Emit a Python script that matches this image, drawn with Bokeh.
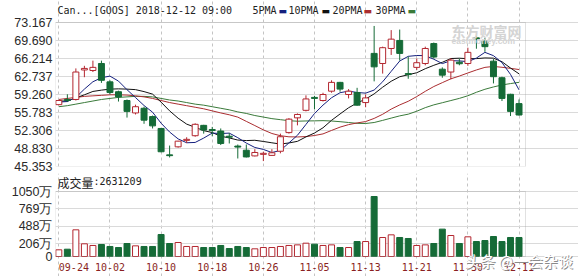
from bokeh.plotting import figure
from bokeh.layouts import column
from bokeh.models import (ColumnDataSource, FixedTicker, Label, Range1d, CustomJSTickFormatter,
                          BoxAnnotation)
from bokeh.embed import file_html
from bokeh.resources import INLINE

# ---------------- data ----------------
dates = ["09-24", "09-25", "09-26", "09-27", "09-28", "10-01", "10-02", "10-03", "10-04", "10-05",
         "10-08", "10-09", "10-10", "10-11", "10-12", "10-15", "10-16", "10-17", "10-18", "10-19",
         "10-22", "10-23", "10-24", "10-25", "10-26", "10-29", "10-30", "10-31", "11-01", "11-02",
         "11-05", "11-06", "11-07", "11-08", "11-09", "11-12", "11-13", "11-14", "11-15", "11-16",
         "11-19", "11-20", "11-21", "11-23", "11-26", "11-27", "11-28", "11-29", "11-30", "12-03",
         "12-04", "12-06", "12-07", "12-10", "12-11"]
opens = [57.3, 58.3, 58.3, 64.0, 63.9, 65.25, 61.7, 59.8, 58.1, 55.7,
         56.6, 55.0, 52.7, 47.6, 49.15, 50.4, 51.3, 53.3, 52.5, 52.2,
         51.2, 49.3, 48.5, 47.4, 47.7, 47.5, 48.3, 51.9, 54.75, 56.2,
         58.7, 58.1, 59.9, 61.6, 59.26, 59.65, 57.7, 67.2, 65.25, 68.15,
         69.7, 63.3, 64.5, 65.25, 69.1, 64.15, 63.6, 65.5, 65.25, 70.2,
         69.56, 65.7, 62.5, 59.3, 57.5]
highs = [58.2, 59.3, 64.3, 64.8, 65.8, 65.8, 62.0, 60.0, 58.3, 57.3,
         56.9, 55.2, 52.8, 49.4, 50.3, 51.0, 53.7, 53.4, 53.0, 52.7,
         51.8, 49.6, 49.6, 48.7, 48.2, 48.7, 51.7, 54.7, 55.6, 59.1,
         59.0, 59.6, 62.0, 61.7, 60.3, 60.55, 59.26, 72.5, 68.5, 71.7,
         71.8, 66.6, 66.2, 68.5, 69.3, 64.5, 66.3, 66.2, 68.3, 70.6,
         70.2, 66.1, 62.7, 59.4, 58.3]
lows = [57.2, 57.8, 58.1, 62.6, 63.6, 61.5, 59.3, 57.9, 54.8, 55.4,
        53.6, 52.7, 48.1, 47.1, 49.0, 49.9, 51.1, 51.7, 51.2, 49.5,
        49.8, 46.9, 47.1, 47.3, 46.4, 47.4, 47.9, 51.7, 53.3, 56.0,
        56.4, 57.9, 59.6, 59.8, 58.5, 57.1, 56.8, 61.8, 63.3, 66.9,
        65.8, 62.3, 64.0, 64.9, 66.2, 62.5, 62.2, 64.9, 64.8, 68.1,
        67.5, 61.4, 58.0, 55.1, 55.2]
closes = [58.1, 58.1, 63.6, 64.3, 64.5, 62.0, 59.65, 58.8, 56.0, 56.9,
          54.3, 53.2, 48.2, 47.45, 50.25, 50.6, 53.5, 52.4, 52.3, 49.8,
          51.0, 49.1, 47.2, 48.06, 47.9, 48.0, 51.1, 54.5, 55.4, 58.4,
          58.5, 59.26, 61.6, 60.3, 59.9, 57.2, 58.6, 64.6, 68.3, 69.95,
          67.2, 63.1, 65.4, 68.15, 66.5, 63.0, 65.9, 65.2, 67.4, 70.0,
          68.5, 62.7, 58.5, 56.0, 55.3]
volumes = [108, 118, 431, 205, 178, 194, 162, 145, 210, 172,
           162, 162, 355, 210, 226, 162, 162, 145, 145, 178,
           129, 162, 145, 124, 145, 145, 162, 178, 188, 215,
           199, 178, 188, 145, 145, 242, 242, 969, 307, 350,
           307, 291, 178, 188, 210, 442, 339, 210, 318, 242,
           258, 323, 242, 307, 307]  # 万
ma5 = [57.8, 57.9, 58.7, 60.3, 61.72, 62.5, 62.81, 61.85, 60.19, 58.67,
       57.13, 55.84, 53.72, 52.01, 50.68, 49.94, 50.0, 50.84, 51.81, 51.72,
       51.8, 50.92, 49.88, 49.03, 48.65, 48.05, 48.45, 49.91, 51.38, 53.48,
       55.58, 57.21, 58.63, 59.61, 59.91, 59.65, 59.52, 60.12, 61.72, 63.73,
       65.73, 66.63, 66.79, 66.76, 66.07, 65.23, 65.79, 65.75, 65.6, 66.3,
       67.4, 66.76, 65.42, 63.14, 60.16]
ma10 = [58.0, 58.0, 58.6, 59.2, 59.85, 60.1, 60.3, 60.35, 60.3, 60.2,
        59.82, 59.33, 57.79, 56.1, 54.68, 53.54, 52.92, 52.28, 51.91, 51.2,
        50.87, 50.46, 50.36, 50.42, 50.19, 49.93, 49.69, 49.9, 50.21, 51.07,
        51.82, 52.83, 54.27, 55.5, 56.7, 57.62, 58.37, 59.38, 60.67, 61.82,
        62.69, 63.08, 63.46, 64.24, 64.9, 65.48, 66.21, 66.27, 66.18, 66.19,
        66.32, 66.28, 65.59, 64.37, 63.25]
ma20 = [58.3, 58.5, 58.7, 58.9, 59.0, 59.1, 59.2, 59.2, 59.15, 59.0,
        58.8, 58.5, 58.1, 57.7, 57.4, 57.1, 56.8, 56.5, 56.1, 55.7,
        55.34, 54.89, 54.07, 53.26, 52.43, 51.73, 51.3, 51.09, 51.06, 51.13,
        51.34, 51.65, 52.32, 52.96, 53.44, 53.77, 54.03, 54.64, 55.44, 56.44,
        57.25, 57.95, 58.86, 59.87, 60.8, 61.55, 62.29, 62.82, 63.42, 64.0,
        64.5, 64.68, 64.52, 64.31, 64.08]
ma30 = [56.9, 57.1, 57.4, 57.7, 58.0, 58.3, 58.5, 58.7, 58.8, 58.9,
        58.9, 58.8, 58.5, 58.2, 58.0, 57.7, 57.4, 57.2, 56.9, 56.6,
        56.3, 55.9, 55.6, 55.2, 54.9, 54.6, 54.4, 54.2, 54.1, 54.15,
        54.17, 54.21, 54.14, 54.01, 53.85, 53.69, 53.66, 53.85, 54.26, 54.7,
        55.13, 55.46, 56.03, 56.72, 57.26, 57.67, 58.09, 58.51, 59.02, 59.69,
        60.27, 60.72, 61.1, 61.37, 61.61]
price_ticks = [45.353, 48.830, 52.306, 55.783, 59.260, 62.737, 66.214, 69.690, 73.167]
volume_ticks = [0, 206, 488, 769, 1050]
date_tick_labels = ["09-24", "10-02", "10-10", "10-18", "10-26", "11-05", "11-13", "11-21", "11-30", "12-11"]
title_text = "Can...[GOOS] 2018-12-12 09:00"
ma_names = ["5PMA", "10PMA", "20PMA", "30PMA"]
volume_title = "成交量"
volume_value_text = ":2631209"

# ---------------- styles / layout ----------------
UP = "#b3262f"
DOWN = "#156b37"
MA_COLORS = ["#15207e", "#111111", "#aa2d30", "#3a7a3a"]
FRAME = "#9c9c9c"
MONO = "DejaVu Sans Mono"
SANS = "Liberation Sans"
CJK = "Noto Sans CJK SC"

W = 578
H1, H2 = 173, 103
FL, FR = 55, 525               # pane left/right (page px)
X0, X1 = -0.39, 54.76          # data range of the pane
PXU = (FR - FL) / (X1 - X0)    # px per candle
XEND = X1 + (W - FR) / PXU     # frame extends to right canvas edge
PMIN, PMAX = price_ticks[0], price_ticks[-1]
P_TOP, P_BOT = 22, 166
UPP = (PMAX - PMIN) / (P_BOT - P_TOP)
VMAX = volume_ticks[-1]
V_TOP, V_BOT = 191, 256
UPV = VMAX / (V_BOT - V_TOP)


def xd(px):
    return X0 + (px - FL) / PXU


def yp(py):
    return PMAX - (py - P_TOP) * UPP


def yv(py):
    return (V_BOT - py) * UPV


idx = list(range(len(dates)))
is_up = [c >= o for o, c in zip(opens, closes)]
src = ColumnDataSource(dict(
    x=idx, open=opens, high=highs, low=lows, close=closes,
    top=[max(o, c) for o, c in zip(opens, closes)],
    bottom=[min(o, c) for o, c in zip(opens, closes)],
    color=[UP if u else DOWN for u in is_up],
    fill=["white" if u else DOWN for u in is_up],
    vol=volumes,
    ma5=ma5, ma10=ma10, ma20=ma20, ma30=ma30,
))
tick_idx = [dates.index(d) for d in date_tick_labels]


def style(p, ylo, yhi):
    p.background_fill_color = "white"
    p.border_fill_color = "white"
    p.outline_line_color = None
    p.ygrid.grid_line_color = "#dadada"
    p.ygrid.bounds = (X0, X1)
    p.xgrid.ticker = FixedTicker(ticks=tick_idx)
    p.xgrid.grid_line_color = "#c4c4c4"
    p.xgrid.grid_line_dash = "3 3"
    p.xgrid.bounds = (ylo, yhi)
    p.add_layout(BoxAnnotation(left=X0, right=X1, bottom=ylo, top=yhi,
                               fill_color=None, line_color=FRAME, line_width=1))
    for ax in p.yaxis:
        ax.axis_line_color = None
        ax.major_tick_line_color = None
        ax.minor_tick_line_color = None
        ax.major_tick_out = 0
        ax.major_tick_in = 0
        ax.minor_tick_out = 0
        ax.major_label_standoff = 3
        ax.major_label_text_font = SANS
        ax.major_label_text_font_size = "12.5px"
        ax.major_label_text_color = "#2a2a2a"


def add_label(p, x, y, text, font, size, color, bold=False):
    p.add_layout(Label(x=x, y=y, text=text, text_font=font,
                       text_font_size=f"{size}px", text_color=color,
                       text_align="left", text_baseline="middle",
                       text_font_style="bold" if bold else "normal"))


# ---------------- price figure ----------------
p1 = figure(width=W, height=H1, x_range=Range1d(X0, XEND), y_range=Range1d(PMIN, yp(0)),
            output_backend="svg", toolbar_location=None, x_axis_location=None,
            min_border_left=FL, min_border_right=0, min_border_top=0, min_border_bottom=H1 - P_BOT)
style(p1, PMIN, PMAX)
p1.yaxis.ticker = FixedTicker(ticks=price_ticks)
p1.yaxis.formatter = CustomJSTickFormatter(code="return tick.toFixed(3);")
p1.ygrid.ticker = FixedTicker(ticks=price_ticks)

for col, c in zip(["ma30", "ma20", "ma10", "ma5"], MA_COLORS[::-1]):
    p1.line("x", col, source=src, line_color=c, line_width=1)
p1.segment(x0="x", y0="low", x1="x", y1="high", source=src, line_color="color", line_width=1)
p1.vbar(x="x", width=0.7, top="top", bottom="bottom", source=src,
        fill_color="fill", line_color="color", line_width=1)

add_label(p1, xd(57), yp(10), title_text, MONO, 10, "#222222")
legend_pos = [(252, 278), (288, 321), (332, 363), (375, 407)]
for name, (tx, dx), c in zip(ma_names, legend_pos, MA_COLORS):
    add_label(p1, xd(tx), yp(10), name, MONO, 10, "#222222")
    add_label(p1, xd(dx), yp(10), "▬", "DejaVu Sans", 9, c)
add_label(p1, xd(451), yp(30.5), "东方财富网", CJK, 14, "#d4d4d4", bold=True)
add_label(p1, xd(451), yp(40.5), "eastmoney.com", SANS, 8.5, "#d4d4d4", bold=True)

# ---------------- volume figure ----------------
p2 = figure(width=W, height=H2, x_range=p1.x_range,
            y_range=Range1d(yv(H1 + H2), yv(H1)),
            output_backend="svg", toolbar_location=None,
            min_border_left=FL, min_border_right=0, min_border_top=0, min_border_bottom=0)
style(p2, 0, VMAX)
p2.yaxis.ticker = FixedTicker(ticks=volume_ticks)
p2.yaxis.formatter = CustomJSTickFormatter(code="return tick == 0 ? '0' : tick + '万';")
p2.ygrid.ticker = FixedTicker(ticks=volume_ticks)
xa = p2.xaxis[0]
xa.fixed_location = 0
xa.ticker = FixedTicker(ticks=tick_idx)
xa.formatter = CustomJSTickFormatter(
    args=dict(labels=dates),
    code="var s = labels[tick] || ''; return tick == 0 ? '\\u00a0\\u00a0\\u00a0\\u00a0\\u00a0' + s : s;")
xa.axis_line_color = None
xa.major_tick_line_color = None
xa.minor_tick_line_color = None
xa.major_tick_out = 0
xa.major_tick_in = 0
xa.minor_tick_out = 0
xa.major_label_standoff = 5
xa.major_label_text_font = MONO
xa.major_label_text_font_size = "10px"
xa.major_label_text_color = "#8a1f22"

p2.vbar(x="x", width=0.7, top="vol", bottom=0, source=src,
        fill_color="fill", line_color="color", line_width=1)

add_label(p2, xd(57), yv(182), volume_title, CJK, 12, "#222222")
add_label(p2, xd(93), yv(181), volume_value_text, MONO, 10, "#222222")
add_label(p2, xd(466), yv(261), "头条 @一会杂谈", CJK, 15, "#8a8a8a")
add_label(p2, xd(465), yv(260), "头条 @一会杂谈", CJK, 15, "#ffffff")

layout = column(p1, p2, spacing=0)
with open("out.html", "w") as f:
    f.write(file_html(layout, INLINE))
